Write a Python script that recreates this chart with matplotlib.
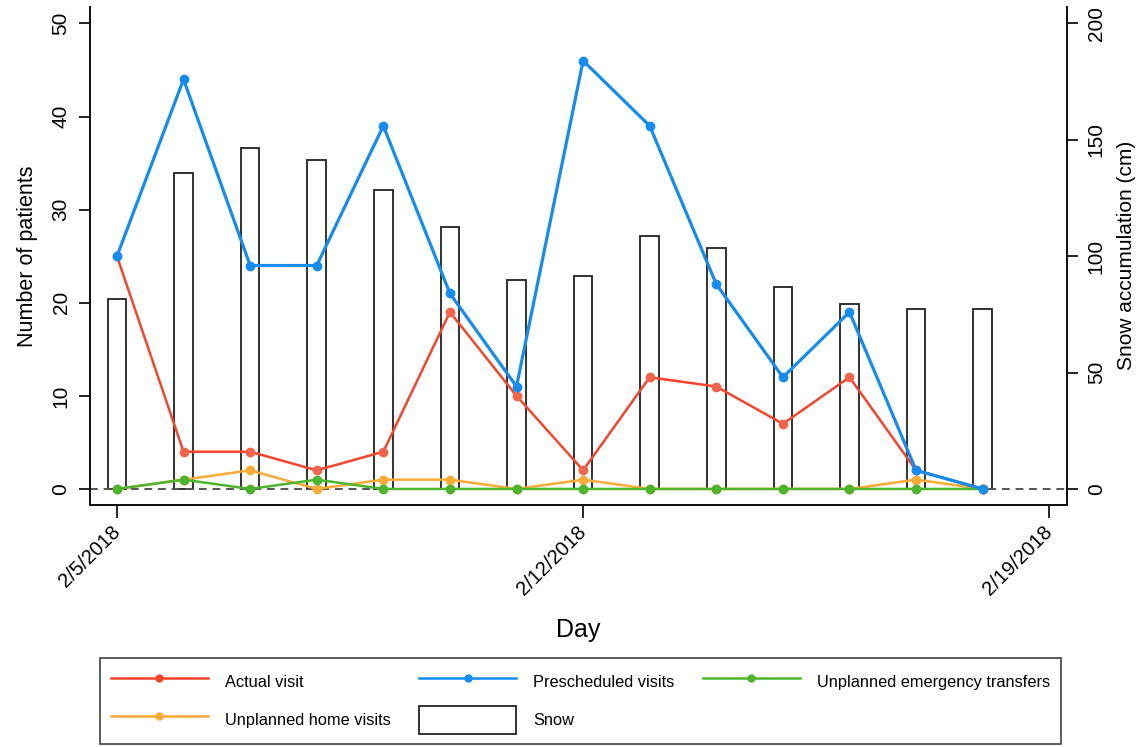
import matplotlib
matplotlib.use("Agg")
import matplotlib.pyplot as plt
import matplotlib.dates as mdates
from matplotlib.patches import Patch
from matplotlib.lines import Line2D
import pandas as pd

plt.rcParams['font.family'] = ['Liberation Sans', 'DejaVu Sans']

# data
days = pd.to_datetime(['2018-02-05', '2018-02-06', '2018-02-07', '2018-02-08', '2018-02-09',
                       '2018-02-10', '2018-02-11', '2018-02-12', '2018-02-13', '2018-02-14',
                       '2018-02-15', '2018-02-16', '2018-02-17', '2018-02-18'])
snow_cm = [81.6, 135.6, 146.7, 141.5, 128.6, 112.6, 89.6, 91.6, 108.5, 103.7, 86.6, 79.6, 77.4, 77.4]
actual = [25, 4, 4, 2, 4, 19, 10, 2, 12, 11, 7, 12, 2, 0]
prescheduled = [25, 44, 24, 24, 39, 21, 11, 46, 39, 22, 12, 19, 2, 0]
emergency = [0, 1, 0, 1, 0, 0, 0, 0, 0, 0, 0, 0, 0, 0]
home_visits = [0, 1, 2, 0, 1, 1, 0, 1, 0, 0, 0, 0, 1, 0]
tick_days = pd.to_datetime(['2018-02-05', '2018-02-12', '2018-02-19'])

c_red = '#f8442a'
c_blue = '#138cf3'
c_green = '#4cb52c'
c_orange = '#fbab36'

fig = plt.figure(figsize=(11.39, 7.47), dpi=100)
ax = fig.add_axes([0.079, 0.324, 0.858, 0.667])
ax2 = ax.twinx()

# snow bars on the right axis, drawn behind the lines
ax2.bar(days, snow_cm, width=0.28, facecolor='white', edgecolor='#222222', linewidth=1.3, zorder=1)
ax2.set_ylim(-1.72 * 4, 51.8 * 4)
ax2.set_yticks([0, 50, 100, 150, 200])
ax2.set_ylabel('Snow accumulation (cm)', fontsize=15, labelpad=8)

ax.set_zorder(ax2.get_zorder() + 1)
ax.patch.set_visible(False)

ax.axhline(0, color='#555555', linestyle=(0, (4, 3)), linewidth=1.4, zorder=2)
ax.plot(days, prescheduled, '-o', color=c_blue, linewidth=2.3, markersize=6, zorder=5)
ax.plot(days, actual, '-o', color=c_red, markerfacecolor='#f4644a', markeredgecolor='#f4644a',
        linewidth=1.8, markersize=6, zorder=4)
ax.plot(days, home_visits, '-o', color=c_orange, linewidth=1.8, markersize=6, zorder=3)
ax.plot(days, emergency, '-o', color=c_green, linewidth=1.8, markersize=6, zorder=3)

ax.set_ylim(-1.72, 51.8)
ax.set_yticks([0, 10, 20, 30, 40, 50])
ax.set_xlim(days[0] - pd.Timedelta(days=0.405), days[0] + pd.Timedelta(days=14.27))
ax.set_xticks(tick_days)
ax.xaxis.set_major_formatter(mdates.DateFormatter('%-m/%-d/%Y'))
ax.set_ylabel('Number of patients', fontsize=15.5, labelpad=10)
ax.set_xlabel('Day', fontsize=18, labelpad=14)

for a in (ax, ax2):
    a.spines['top'].set_visible(False)
    for s in a.spines.values():
        s.set_linewidth(1.3)
        s.set_color('#111111')
    a.tick_params(axis='y', length=8, width=1.2, labelsize=15, pad=6)
    for lab in a.get_yticklabels():
        lab.set_rotation(90)
        lab.set_va('center')

ax.tick_params(axis='x', length=9, width=1.2, labelsize=14.5, pad=8)
for lab in ax.get_xticklabels():
    lab.set_rotation(45)
    lab.set_ha('right')
    lab.set_va('center')
    lab.set_rotation_mode('anchor')

handles = [
    Line2D([], [], color=c_red, marker='o', markersize=5, linewidth=1.8),
    Line2D([], [], color=c_orange, marker='o', markersize=5, linewidth=1.8),
    Line2D([], [], color=c_blue, marker='o', markersize=5, linewidth=1.8),
    Patch(facecolor='white', edgecolor='#222222', linewidth=1.3),
    Line2D([], [], color=c_green, marker='o', markersize=5, linewidth=1.8),
]
labels = ['Actual visit', 'Unplanned home visits', 'Prescheduled visits', 'Snow',
          'Unplanned emergency transfers']
leg = fig.legend(handles, labels, ncol=3, loc='center',
                 bbox_to_anchor=((98 + 1063) / 2 / 1139, 1 - 701 / 747),
                 fontsize=11.8, frameon=True, fancybox=False,
                 handlelength=5.9, handleheight=2.2, handletextpad=1.05,
                 columnspacing=1.75, labelspacing=0.65, borderpad=0.65)
leg.get_frame().set_edgecolor('#111111')
leg.get_frame().set_linewidth(1.2)

fig.savefig('out.png', dpi=100)
